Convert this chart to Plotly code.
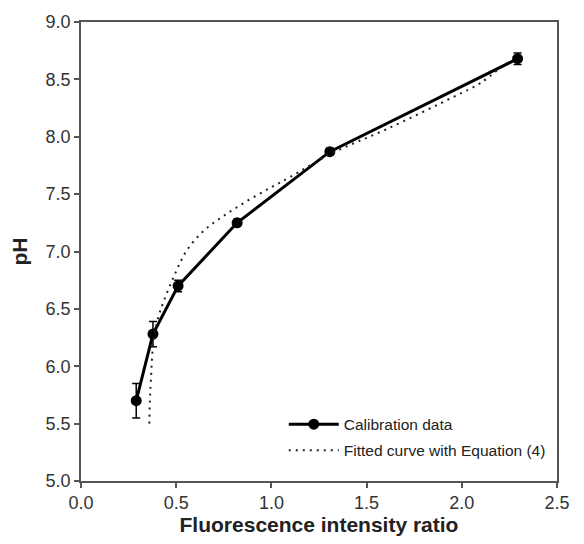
import plotly.graph_objects as go

# Calibration data
ratio = [0.29, 0.378, 0.51, 0.82, 1.307, 2.293]
ph = [5.70, 6.28, 6.70, 7.25, 7.87, 8.68]
ph_err = [0.15, 0.11, 0.05, 0.03, 0.03, 0.05]

# Fitted curve
fit_ratio = [0.359, 0.362, 0.367, 0.381, 0.405, 0.433, 0.495, 0.556, 0.644, 0.749, 0.872,
             1.00, 1.10, 1.31, 1.61, 1.96, 2.10, 2.20]
fit_ph = [5.50, 5.70, 5.88, 6.22, 6.42, 6.56, 6.81, 7.01, 7.18, 7.31, 7.44,
          7.56, 7.65, 7.85, 8.07, 8.35, 8.47, 8.60]

x_ticks = [0.0, 0.5, 1.0, 1.5, 2.0, 2.5]
y_ticks = [5.0, 5.5, 6.0, 6.5, 7.0, 7.5, 8.0, 8.5, 9.0]

fig = go.Figure()
fig.add_trace(go.Scatter(
    x=ratio, y=ph, mode="lines+markers", name="Calibration data",
    line=dict(color="black", width=3),
    marker=dict(color="black", size=11, symbol="circle"),
    error_y=dict(type="data", array=ph_err, visible=True, color="black", thickness=1.5, width=4),
    legendgroup="a",
))
fig.add_trace(go.Scatter(
    x=fit_ratio, y=fit_ph, mode="lines", name="Fitted curve with Equation (4)",
    line=dict(color="#222", width=2, dash="2px,5px", shape="spline"),
    legendgroup="b",
))

axis_common = dict(
    showline=True, linecolor="#555", linewidth=1.5, mirror=True,
    ticks="outside", ticklen=5, tickwidth=1.5, tickcolor="#555",
    showgrid=False, zeroline=False,
    tickfont=dict(family="Liberation Sans, Arial", size=18, color="#333"),
)

fig.update_layout(
    width=584, height=544,
    margin=dict(l=81, r=27, t=13, b=61),
    paper_bgcolor="white", plot_bgcolor="white",
    xaxis=dict(range=[0, 2.5], tickvals=x_ticks, ticktext=[f"{v:.1f}" for v in x_ticks],
               title=dict(text="<b>Fluorescence intensity ratio</b>",
                          font=dict(family="Liberation Sans, Arial", size=21, color="#222"),
                          standoff=4),
               **axis_common),
    yaxis=dict(range=[5, 9], tickvals=y_ticks, ticktext=[f"{v:.1f}" for v in y_ticks],
               title=dict(text="<b>pH</b>",
                          font=dict(family="Liberation Sans, Arial", size=21, color="#222"),
                          standoff=12),
               **axis_common),
    legend=dict(x=0.426, y=0.16, xanchor="left", yanchor="top",
                bgcolor="rgba(0,0,0,0)", traceorder="grouped", tracegroupgap=3,
                font=dict(family="Liberation Sans, Arial", size=15.5, color="#222"),
                itemwidth=50),
    showlegend=True,
)

fig.write_html("out.html")
